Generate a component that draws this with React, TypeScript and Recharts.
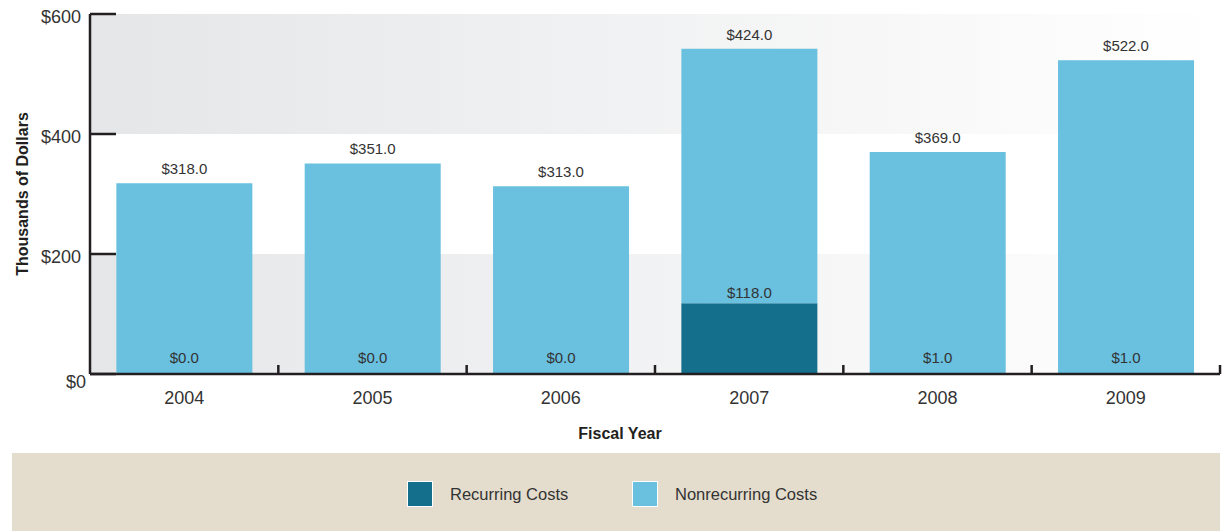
import React from 'react';
import {
  BarChart,
  Bar,
  XAxis,
  YAxis,
  ReferenceArea,
  LabelList,
  Label,
} from 'recharts';

const years = ['2004', '2005', '2006', '2007', '2008', '2009'];
const recurring = [0, 0, 0, 118, 1, 1];
const nonrecurring = [318, 351, 313, 424, 369, 522];
const yTicks = [0, 200, 400, 600];

const data = years.map((year, i) => ({
  year,
  recurring: recurring[i],
  nonrecurring: nonrecurring[i],
}));

const FONT = '"Liberation Sans", Arial, sans-serif';
const INK = '#231f20';
const TEXT = '#333333';
const DARK = '#136f8b';
const LIGHT = '#69c0df';

const money = (v: any) => `$${Number(v).toFixed(1)}`;

const YTick = (props: any) => {
  const { x, y, payload } = props;
  const zero = payload.value === 0;
  return (
    <g>
      <line x1={x} y1={y} x2={x + 26} y2={y} stroke={INK} strokeWidth={2.5} />
      <text
        x={x - (zero ? 4 : 9)}
        y={y + (zero ? 14 : 9)}
        textAnchor="end"
        fontSize={18}
        fill={TEXT}
        fontFamily={FONT}
      >
        ${payload.value}
      </text>
    </g>
  );
};

const XTick = (props: any) => {
  const { x, y, payload } = props;
  const off = payload.offset || 94;
  return (
    <g>
      <line x1={x + off} y1={y} x2={x + off} y2={y - 9} stroke={INK} strokeWidth={2.5} />
      <text x={x} y={y + 30} textAnchor="middle" fontSize={18} fill={TEXT} fontFamily={FONT}>
        {payload.value}
      </text>
    </g>
  );
};

// label for the recurring segment, drawn from the nonrecurring bar (zero-height bars get no label)
const RecurringLabel = (props: any) => {
  const { x, y, width, height, index } = props;
  const segTop = y + height;
  const ppu = height / nonrecurring[index];
  const base = segTop + recurring[index] * ppu;
  const ty = Math.min(segTop - 5, base - 11);
  return (
    <text x={x + width / 2} y={ty} textAnchor="middle" fontSize={15} fill={TEXT} fontFamily={FONT}>
      {money(recurring[index])}
    </text>
  );
};

const NonrecurringLabel = (props: any) => {
  const { x, y, width, value } = props;
  return (
    <text x={x + width / 2} y={y - 9} textAnchor="middle" fontSize={15} fill={TEXT} fontFamily={FONT}>
      {money(value)}
    </text>
  );
};

const Swatch = ({ color, label }: { color: string; label: string }) => (
  <div style={{ display: 'flex', alignItems: 'center' }}>
    <div
      style={{
        width: 26,
        height: 26,
        background: color,
        border: '1px solid #ffffff',
        boxSizing: 'border-box',
        marginRight: 17,
      }}
    />
    <span style={{ fontSize: 16.5, color: TEXT, fontFamily: FONT }}>{label}</span>
  </div>
);

export default function App() {
  return (
    <div
      style={{
        position: 'absolute',
        left: 0,
        top: 0,
        width: 1226,
        height: 531,
        background: '#ffffff',
        fontFamily: FONT,
      }}
    >
      <BarChart
        width={1226}
        height={445}
        data={data}
        margin={{ top: 14, right: 6, left: 0, bottom: 0 }}
        barCategoryGap="14%"
      >
        <defs>
          <linearGradient id="bandGrad" x1="0" y1="0" x2="1" y2="0">
            <stop offset="0%" stopColor="#e5e6e8" />
            <stop offset="100%" stopColor="#ffffff" />
          </linearGradient>
        </defs>
        <ReferenceArea y1={0} y2={200} fill="url(#bandGrad)" fillOpacity={1} stroke="none" />
        <ReferenceArea y1={400} y2={600} fill="url(#bandGrad)" fillOpacity={1} stroke="none" />
        <XAxis
          dataKey="year"
          height={71}
          tickSize={0}
          tickMargin={0}
          tickLine={false}
          axisLine={{ stroke: INK, strokeWidth: 2.5 }}
          tick={<XTick />}
          interval={0}
        >
          <Label
            value="Fiscal Year"
            position="insideBottom"
            offset={6}
            dx={-35}
            style={{ fontSize: 16, fontWeight: 'bold', fill: INK, fontFamily: FONT }}
          />
        </XAxis>
        <YAxis
          type="number"
          domain={[0, 600]}
          ticks={yTicks}
          width={90}
          tickSize={0}
          tickMargin={0}
          tickLine={false}
          axisLine={{ stroke: INK, strokeWidth: 2.5 }}
          tick={<YTick />}
        >
          <Label
            value="Thousands of Dollars"
            angle={-90}
            position="insideLeft"
            offset={22}
            style={{ fontSize: 16, fontWeight: 'bold', fill: INK, fontFamily: FONT, textAnchor: 'middle' }}
          />
        </YAxis>
        <Bar dataKey="recurring" stackId="a" fill={DARK} isAnimationActive={false} />
        <Bar dataKey="nonrecurring" stackId="a" fill={LIGHT} isAnimationActive={false}>
          <LabelList dataKey="nonrecurring" content={<NonrecurringLabel />} />
          <LabelList dataKey="recurring" content={<RecurringLabel />} />
        </Bar>
      </BarChart>
      <div
        style={{
          position: 'absolute',
          left: 12,
          top: 453,
          width: 1208,
          height: 78,
          background: '#e4ddcd',
        }}
      >
        <div style={{ position: 'absolute', left: 395, top: 28 }}>
          <Swatch color={DARK} label="Recurring Costs" />
        </div>
        <div style={{ position: 'absolute', left: 620, top: 28 }}>
          <Swatch color={LIGHT} label="Nonrecurring Costs" />
        </div>
      </div>
    </div>
  );
}
